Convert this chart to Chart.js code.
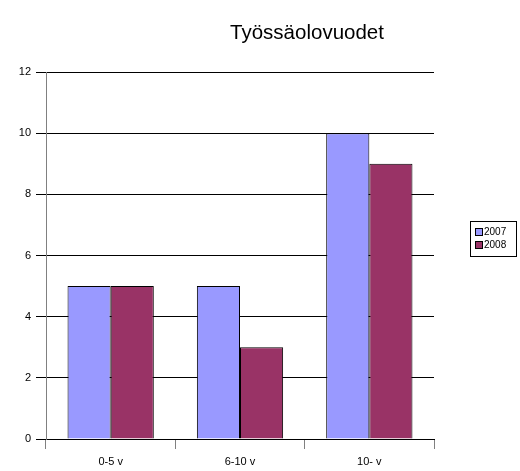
<!DOCTYPE html>
<html>
<head>
<meta charset="utf-8">
<script src="https://cdn.jsdelivr.net/npm/chart.js@4/dist/chart.umd.min.js"></script>
<style>
  body { margin: 0; background: #fff; }
  #wrap { width: 520px; height: 471px; }
</style>
</head>
<body>
<div id="wrap"><canvas id="myChart" width="520" height="471"></canvas></div>
<script>
// Datos del gráfico
const categories = ['0-5 v', '6-10 v', '10- v'];
const seriesNames = ['2007', '2008'];
const values2007 = [5, 5, 10];
const values2008 = [5, 3, 9];
const chartTitle = 'Työssäolovuodet';

// Título y leyenda dibujados a mano (caja con borde, como en el original)
const decoPlugin = {
    id: 'deco',
    afterDraw(chart) {
        const ctx = chart.ctx;
        ctx.save();
        ctx.fillStyle = '#000';
        ctx.font = '20.5px "Liberation Sans", Arial, sans-serif';
        ctx.textAlign = 'center';
        ctx.textBaseline = 'middle';
        ctx.fillText(chartTitle, 307, 33);

        // leyenda
        ctx.strokeStyle = '#000';
        ctx.lineWidth = 1;
        ctx.strokeRect(470.5, 221.5, 46, 35);
        ctx.font = '10px "Liberation Sans", Arial, sans-serif';
        ctx.textAlign = 'left';
        chart.data.datasets.forEach((ds, i) => {
            const y = 228 + i * 13;
            ctx.fillStyle = ds.backgroundColor;
            ctx.fillRect(475, y, 7, 7);
            ctx.strokeRect(475.5, y + 0.5, 7, 7);
            ctx.fillStyle = '#000';
            ctx.fillText(ds.label, 484, y + 4);
        });
        ctx.restore();
    }
};

document.addEventListener('DOMContentLoaded', () => {
    const ctx = document.getElementById('myChart').getContext('2d');

    new Chart(ctx, {
        type: 'bar',
        data: {
            labels: categories,
            datasets: [{
                label: seriesNames[0],
                data: values2007,
                backgroundColor: '#9999FF',
                borderColor: '#000',
                borderWidth: 1
            }, {
                label: seriesNames[1],
                data: values2008,
                backgroundColor: '#993366',
                borderColor: '#000',
                borderWidth: 1
            }]
        },
        options: {
            responsive: false,
            animation: false,
            layout: { padding: { top: 72, right: 86, left: 0, bottom: 0 } },
            datasets: {
                bar: { categoryPercentage: 0.667, barPercentage: 1 }
            },
            plugins: {
                legend: { display: false },
                title: { display: false },
                tooltip: { enabled: false }
            },
            scales: {
                x: {
                    afterFit(scale) { scale.height = 32; },
                    grid: {
                        offset: true,
                        drawOnChartArea: false,
                        color: '#808080',
                        tickLength: 10
                    },
                    border: { color: '#000' },
                    ticks: {
                        color: '#000',
                        padding: 6,
                        font: { family: '"Liberation Sans", Arial, sans-serif', size: 11 }
                    }
                },
                y: {
                    min: 0,
                    max: 12,
                    afterFit(scale) { scale.width = 46; },
                    grid: { color: '#000', tickLength: 10 },
                    border: { color: '#808080' },
                    ticks: {
                        stepSize: 2,
                        color: '#000',
                        padding: 5,
                        font: { family: '"Liberation Sans", Arial, sans-serif', size: 11 }
                    }
                }
            }
        },
        plugins: [decoPlugin]
    });
});
</script>
</body>
</html>
